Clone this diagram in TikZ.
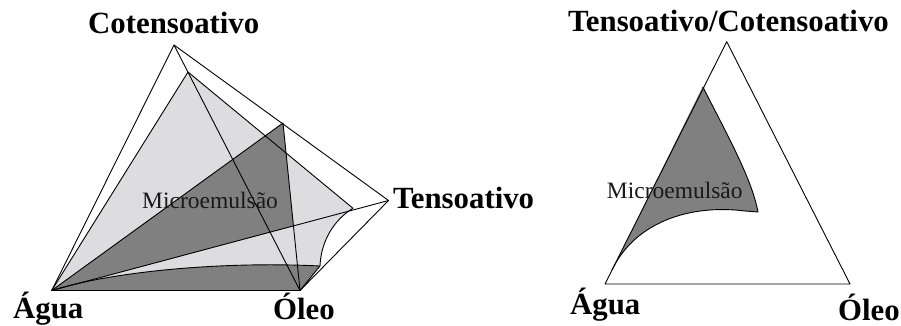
\documentclass[tikz,border=0pt]{standalone}
\usepackage{fontspec}
\setmainfont{Liberation Serif}
\usetikzlibrary{intersections}
\definecolor{lightg}{RGB}{221,221,223}
\definecolor{darkg}{RGB}{128,128,128}
\tikzset{
  edge/.style={draw=black,line width=0.9pt,line join=round},
  lab/.style={font=\fontsize{30.8}{32}\selectfont\bfseries,inner sep=0pt,anchor=base west},
  mlab/.style={font=\fontsize{23.5}{24}\selectfont,inner sep=0pt,anchor=base west,text=black!90}
}
\begin{document}
\begin{tikzpicture}[x=1pt,y=-1pt]
\useasboundingbox (0,0) rectangle (901,326);
% ---------- left tetrahedron ----------
\coordinate (A) at (51.7,290.5);
\coordinate (O) at (300,290.5);
\coordinate (T) at (388.5,200.5);
\coordinate (C) at (174,45);
\coordinate (P1) at (188,72);
\coordinate (P2) at (353,208.3);
\coordinate (Q) at (320,266);
\coordinate (R) at (283,123);
\path[name path=ro] (R) -- (O);
\path[name path=at] (A) -- (T);
\path[name intersections={of=ro and at,by=X}];
% light region
\fill[lightg] (A) -- (P1) -- (P2) .. controls (335,219) and (321,240) .. (Q) -- (O) -- cycle;
% dark triangle
\fill[darkg] (A) -- (R) -- (X) -- cycle;
% dark bottom
\fill[darkg] (A) .. controls (110,272) and (220,261) .. (Q) -- (O) -- cycle;
% lines
\draw[edge] (A) -- (C) -- (T) -- (O) -- cycle;
\draw[edge] (C) -- (O);
\draw[edge] (A) -- (T);
\draw[edge] (A) -- (P1) -- (P2) .. controls (335,219) and (321,240) .. (Q) -- (O);
\draw[edge] (A) -- (R) -- (O);
\draw[edge] (A) .. controls (110,272) and (220,261) .. (Q);
% labels
\node[lab] (lc) at (88,34) {Cotensoativo};
\node[lab] (lt) at (393,208) {Tensoativo};
\node[lab] (la) at (13,318) {Água};
\node[lab] (lo) at (273,319) {Óleo};
\node[mlab] (lm) at (142,208) {Microemulsão};
% ---------- right triangle ----------
\coordinate (V) at (726.7,41.7);
\coordinate (BL) at (605,284);
\coordinate (BR) at (850,284);
\coordinate (D1) at (702.7,86.7);
\coordinate (D2) at (758,212);
\coordinate (E) at (612,270);
\fill[darkg] (D1) .. controls (730,140) and (752,180) .. (D2) -- (745,211) .. controls (690,204) and (635,222) .. (E) -- cycle;
\draw[edge] (D1) .. controls (730,140) and (752,180) .. (D2) -- (745,211) .. controls (690,204) and (635,222) .. (E);
\draw[edge] (V) -- (BL) -- (BR) -- cycle;
\node[lab] (rt) at (568,31.7) {Tensoativo/Cotensoativo};
\node[lab] (ra) at (570,314) {Água};
\node[lab] (ro) at (838,320) {Óleo};
\node[mlab] (rm) at (606.7,198.3) {Microemulsão};
\end{tikzpicture}
\end{document}
